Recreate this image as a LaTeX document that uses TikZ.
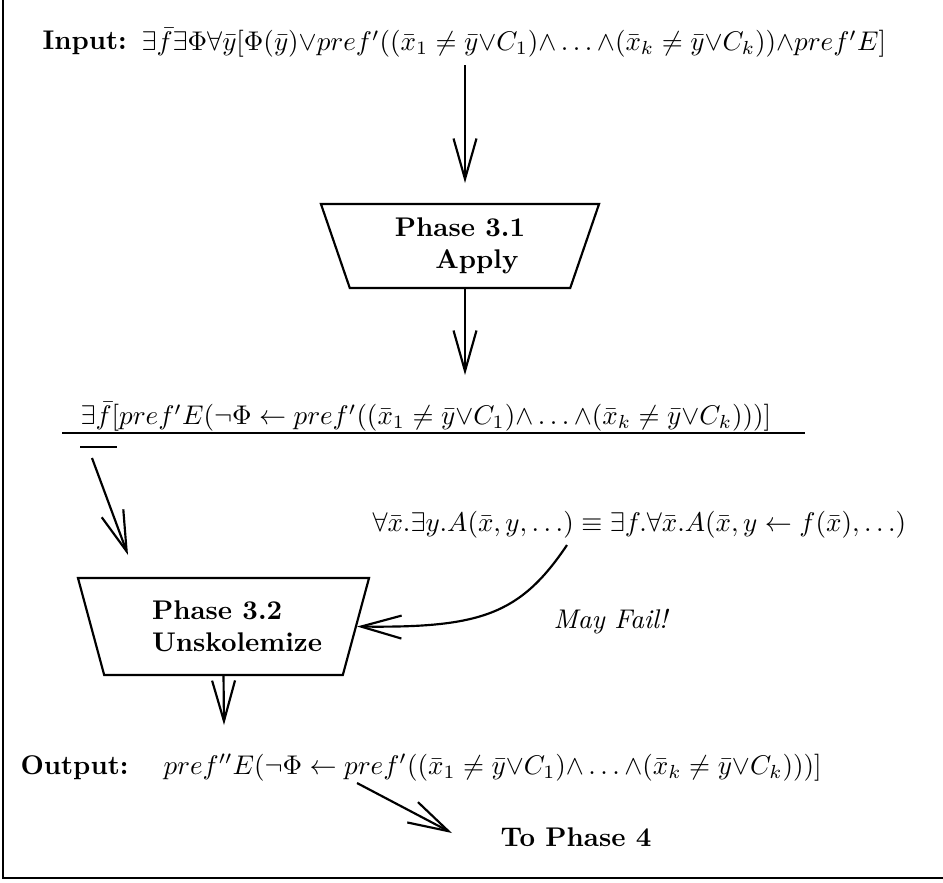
\documentclass[tikz,border=0pt]{standalone}
\usepackage{amsmath}
\usepackage{amssymb}
\usetikzlibrary{arrows.meta}
\usetikzlibrary{shapes.geometric}
\tikzset{flow/.style={-{Straight Barb[length=15pt,width=8.5pt]},line width=0.8pt},
         phase/.style={draw,line width=0.8pt,trapezium,shape border rotate=180,
                       trapezium angle=63,trapezium stretches body,align=left,
                       font=\bfseries,inner sep=0pt},
         fml/.style={anchor=west,inner sep=0pt}}

\begin{document}
\begin{tikzpicture}[x=0.37pt,y=-0.37pt]
\useasboundingbox (0,0) rectangle (943,882);
\draw[line width=0.8pt](3,0)--(3,878)--(943,878);
\node[fml] (inlbl) at (42,43) {\textbf{Input:}};
\node[fml] (infml) at (141,43) {$\exists\bar{f}\exists\Phi\forall\bar{y}[\Phi(\bar{y}){\vee}pref'((\bar{x}_1\neq\bar{y}{\vee}C_1){\wedge}\ldots{\wedge}(\bar{x}_k\neq\bar{y}{\vee}C_k)){\wedge}pref'E]$};
\node[phase,minimum width=102.9pt,minimum height=31.1pt] (ph31) at (460,246) {Phase 3.1\\\hspace*{15pt}Apply};
\draw[flow](465,65)--(465,183);
\draw[flow](ph31.south -| 465,0)--(465,375);
\node[fml] (apfml) at (80,417) {$\exists\bar{f}[pref'E(\neg\Phi\leftarrow pref'((\bar{x}_1\neq\bar{y}{\vee}C_1){\wedge}\ldots{\wedge}(\bar{x}_k\neq\bar{y}{\vee}C_k)))]$};
\draw[line width=0.8pt](62,433)--(805,433);
\draw[line width=0.8pt](80,447)--(117,447);
\coordinate (a3s) at (92,458);
\coordinate (a3e) at (128,555);
\draw[flow](a3s)--(a3e);
\node[fml] (skfml) at (372,525) {$\forall\bar{x}.\exists y.A(\bar{x},y,\ldots)\equiv\exists f.\forall\bar{x}.A(\bar{x},y\leftarrow f(\bar{x}),\ldots)$};
\node[phase,minimum width=107.7pt,minimum height=35.9pt] (ph32) at (223.5,626.5) {\hspace*{10pt}Phase 3.2\\\hspace*{10pt}Unskolemize};
\coordinate (cs) at (567,545);
\draw[flow](cs) .. controls (520,615) and (480,628) .. (ph32.east);
\node[fml] (fail) at (553,622) {\textit{May Fail!}};
\coordinate (a4e) at (224,725);
\draw[flow](ph32.south)--(a4e);
\node[fml] (outlbl) at (20,768) {\textbf{Output:}};
\node[fml] (outfml) at (163,768) {$pref''E(\neg\Phi\leftarrow pref'((\bar{x}_1\neq\bar{y}{\vee}C_1){\wedge}\ldots{\wedge}(\bar{x}_k\neq\bar{y}{\vee}C_k)))]$};
\coordinate (a5s) at (357,783);
\coordinate (a5e) at (452,833);
\draw[flow](a5s)--(a5e);
\node[fml] (next) at (500,837) {\textbf{To Phase 4}};
\end{tikzpicture}
\end{document}
